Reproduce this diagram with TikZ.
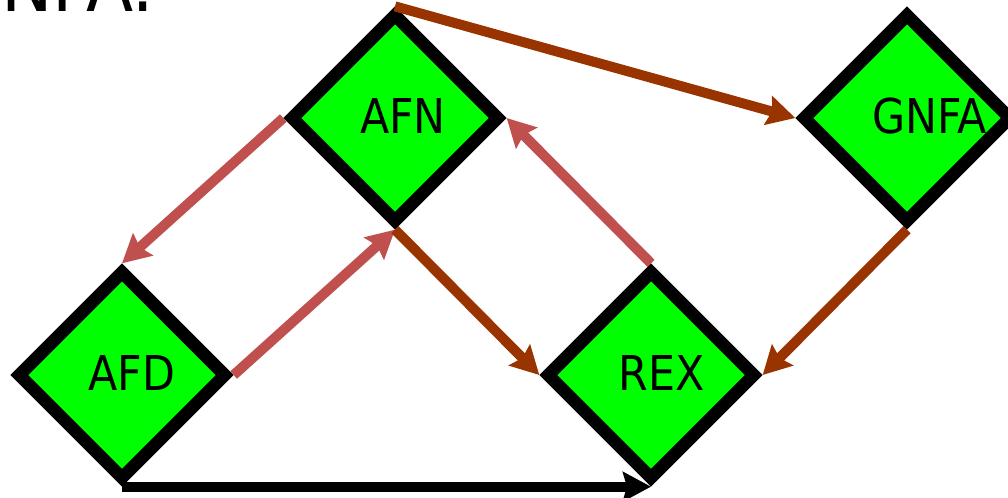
\documentclass[tikz,border=0pt]{standalone}
\usepackage{fontspec}
\setmainfont{DejaVu Sans}[FakeStretch=0.89]
\usepackage{tikz}
\usetikzlibrary{shapes.geometric,arrows.meta}
\definecolor{nodegreen}{RGB}{0,255,0}
\definecolor{convbrown}{RGB}{153,51,0}
\definecolor{convred}{RGB}{192,80,77}

\begin{document}
\begin{tikzpicture}[x=0.75pt,y=0.75pt,yscale=-1,xscale=1,
  state/.style={diamond,aspect=1,draw=black,line width=9.5pt,fill=nodegreen,minimum size=158pt,inner sep=0pt},
  lbl/.style={inner sep=0pt,font=\fontsize{36}{42}\selectfont},
  conv/.style={line width=7.5pt,-{Stealth[length=21pt,width=22pt,inset=3pt]}},
  fwd/.style={conv,draw=convbrown},
  back/.style={conv,draw=convred}]
\useasboundingbox (0,0) rectangle (1008,497);
% Title (cut off at the top)
\node [anchor=base west,inner sep=0pt,font=\fontsize{58}{60}\selectfont] (title) at (1,11) {NFA:};
% Diamond nodes
\node [state] (afn) at (395,118) {};
\node [state] (gnfa) at (907,118) {};
\node [state] (afd) at (122,375) {};
\node [state] (rex) at (651,375) {};
% Text Node
\node [lbl] (afn-t) at ([xshift=6pt,yshift=-1.5pt]afn.center) {AFN};
\node [lbl] (gnfa-t) at ([xshift=17pt,yshift=-1.5pt]gnfa.center) {GNFA};
\node [lbl] (afd-t) at ([xshift=7.5pt,yshift=-1.5pt]afd.center) {AFD};
\node [lbl] (rex-t) at ([xshift=8pt,yshift=-1.5pt]rex.center) {REX};
% Arrows
\draw [fwd] (afn.north) -- (gnfa.west);
\draw [back] (afn.west) -- (afd.north);
\draw [back] (afd.east) -- (afn.south);
\draw [fwd] (afn.south) -- (rex.west);
\draw [back] (rex.north) -- (afn.east);
\draw [fwd] (gnfa.south) -- (rex.east);
\draw [conv,draw=black] (afd.south) -- (rex.south);
\end{tikzpicture}
\end{document}
